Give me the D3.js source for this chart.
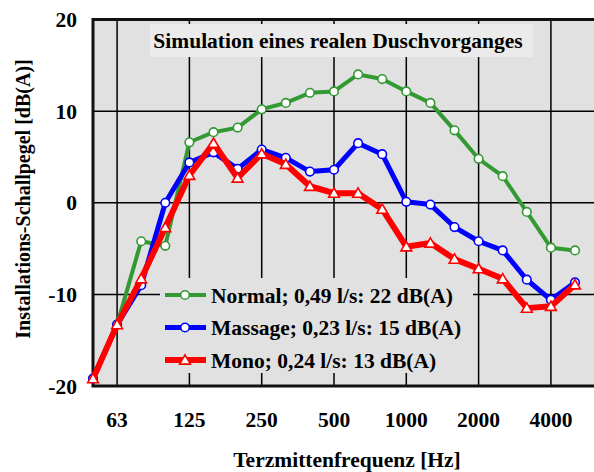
<!DOCTYPE html>
<html>
<head>
<meta charset="utf-8">
<script src="https://cdn.jsdelivr.net/npm/d3@7"></script>
<style>
  body { margin: 0; background: #fff; }
  svg text { font-family: "Liberation Serif", "Times New Roman", serif; font-weight: bold; }
</style>
</head>
<body>
<div id="chart"></div>
<script>
// third-octave centre frequencies
const freqs = ["50","63","80","100","125","160","200","250","315","400","500",
  "630","800","1000","1250","1600","2000","2500","3150","4000","5000"];
const tickLabels = ["63","125","250","500","1000","2000","4000"];
const yTicks = [-20, -10, 0, 10, 20];

const normal  = [-19.2,-13.3,-4.2,-4.7,6.6,7.7,8.2,10.2,10.9,12.0,12.15,14.0,13.5,12.15,10.9,7.9,4.8,2.9,-1.0,-4.9,-5.2];
const massage = [-19.2,-13.3,-9.0,0.0,4.4,5.5,3.7,5.8,4.9,3.4,3.6,6.5,5.3,0.1,-0.2,-2.65,-4.2,-5.2,-8.4,-10.6,-8.7];
const mono    = [-19.2,-13.3,-8.3,-2.7,3.0,6.5,2.7,5.35,4.2,1.8,1.05,1.05,-0.7,-4.8,-4.4,-6.15,-7.2,-8.3,-11.5,-11.3,-8.95];

const seriesNames = ["Normal; 0,49 l/s: 22 dB(A)", "Massage; 0,23 l/s: 15 dB(A)", "Mono; 0,24 l/s: 13 dB(A)"];
const title = "Simulation eines realen Duschvorganges";

const series = [
  {name: seriesNames[0], values: normal, color: "#339933", width: 4, marker: "circle"},
  {name: seriesNames[1], values: massage, color: "#0000ff", width: 5, marker: "circle"},
  {name: seriesNames[2], values: mono, color: "#ff0000", width: 6, marker: "triangle"}
];

const W = 594, H = 472;
const plotL = 93, plotT = 19.5, plotR = 597, plotB = 386;

const svg = d3.select("#chart").append("svg")
  .attr("width", W).attr("height", H);

const x = d3.scalePoint().domain(freqs).range([plotL, 575]);
const y = d3.scaleLinear().domain([-20, 20]).range([plotB, plotT]);

// plot background
svg.append("rect")
  .attr("x", plotL).attr("y", plotT)
  .attr("width", plotR - plotL).attr("height", plotB - plotT)
  .attr("fill", "#e1e1e1");

// grid
svg.append("g").selectAll("line")
  .data(tickLabels)
  .enter().append("line")
  .attr("x1", d => x(d)).attr("x2", d => x(d))
  .attr("y1", plotT).attr("y2", plotB)
  .attr("stroke", "#000").attr("stroke-width", 1.5);

svg.append("g").selectAll("line")
  .data(yTicks.slice(1, -1))
  .enter().append("line")
  .attr("x1", plotL).attr("x2", plotR)
  .attr("y1", d => y(d)).attr("y2", d => y(d))
  .attr("stroke", "#000").attr("stroke-width", 1.5);

// frame
svg.append("path")
  .attr("d", `M${plotR},${plotT}H${plotL}V${plotB}H${plotR}`)
  .attr("fill", "none").attr("stroke", "#111").attr("stroke-width", 3);

// title box
svg.append("rect")
  .attr("x", 150).attr("y", 24).attr("width", 383).attr("height", 33)
  .attr("fill", "#ebebeb");
svg.append("text")
  .attr("x", 338).attr("y", 48)
  .attr("text-anchor", "middle")
  .attr("font-size", 21.5)
  .text(title);

// series
const line = d3.line()
  .x((d, i) => x(freqs[i]))
  .y(d => y(d));

const tri = d3.symbol().type(d3.symbolTriangle).size(50);

function drawMarker(g, s, px, py) {
  if (s.marker === "circle") {
    g.append("circle")
      .attr("cx", px).attr("cy", py).attr("r", 4.3)
      .attr("fill", "#fff").attr("stroke", s.color).attr("stroke-width", 1.6);
  } else {
    g.append("path")
      .attr("d", tri())
      .attr("transform", `translate(${px},${py + 1})`)
      .attr("fill", "#fff").attr("stroke", s.color).attr("stroke-width", 1.6);
  }
}

series.forEach(s => {
  const g = svg.append("g");
  g.append("path")
    .datum(s.values)
    .attr("d", line)
    .attr("fill", "none")
    .attr("stroke", s.color)
    .attr("stroke-width", s.width)
    .attr("stroke-linejoin", "round");
  s.values.forEach((v, i) => drawMarker(g, s, x(freqs[i]), y(v)));
});

// legend
const lg = svg.append("g");
lg.append("rect")
  .attr("x", 160).attr("y", 278).attr("width", 313).attr("height", 95)
  .attr("fill", "#e1e1e1");
const rowY = d3.scalePoint().domain(seriesNames).range([295, 360]);
series.forEach(s => {
  const ry = rowY(s.name);
  lg.append("line")
    .attr("x1", 165).attr("x2", 206).attr("y1", ry).attr("y2", ry)
    .attr("stroke", s.color).attr("stroke-width", s.width);
  drawMarker(lg, s, 185, ry);
  lg.append("text")
    .attr("x", 211).attr("y", ry + 7.5)
    .attr("font-size", 21.5)
    .text(s.name);
});

// axes labels
svg.append("g").selectAll("text")
  .data(yTicks)
  .enter().append("text")
  .attr("x", 77).attr("y", d => y(d) + 7.5)
  .attr("text-anchor", "end")
  .attr("font-size", 21.5)
  .text(d => d);

svg.append("g").selectAll("text")
  .data(tickLabels)
  .enter().append("text")
  .attr("x", d => x(d)).attr("y", 427)
  .attr("text-anchor", "middle")
  .attr("font-size", 21.5)
  .text(d => d);

svg.append("text")
  .attr("x", 347).attr("y", 467)
  .attr("text-anchor", "middle")
  .attr("font-size", 21.5)
  .text("Terzmittenfrequenz [Hz]");

svg.append("text")
  .attr("transform", "translate(30,199) rotate(-90)")
  .attr("text-anchor", "middle")
  .attr("font-size", 20)
  .text("Installations-Schallpegel [dB(A)]");
</script>
</body>
</html>
